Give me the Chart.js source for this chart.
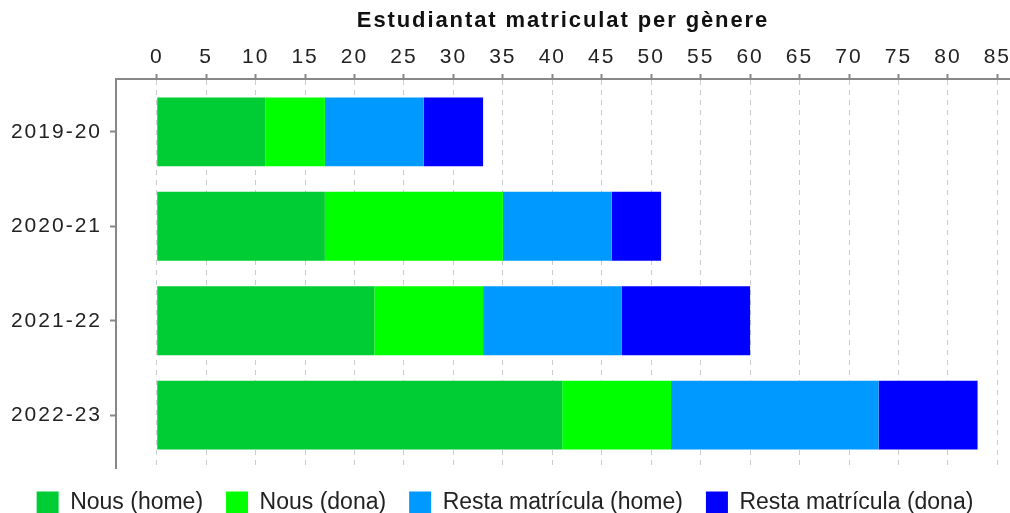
<!DOCTYPE html>
<html>
<head>
<meta charset="utf-8">
<script src="https://cdn.jsdelivr.net/npm/chart.js@4"></script>
<style>
  html, body { margin: 0; padding: 0; background: #fff; }
</style>
</head>
<body>
<canvas id="genere" width="1010" height="513"></canvas>
<script>
// cursos i valors (estudiants)
var cursos = ['2019-20', '2020-21', '2021-22', '2022-23'];
var nousHome = [11, 17, 22, 41];
var nousDona = [6, 18, 11, 11];
var restaHome = [10, 11, 14, 21];
var restaDona = [6, 5, 13, 10];
var xTicks = [0, 5, 10, 15, 20, 25, 30, 35, 40, 45, 50, 55, 60, 65, 70, 75, 80, 85];

Chart.defaults.font.family = "'Liberation Sans', Arial, sans-serif";
Chart.defaults.color = '#222';

// axis text is a bit spaced out in the original
var origLabels = Chart.Scale.prototype.drawLabels;
Chart.Scale.prototype.drawLabels = function (area) {
    this.ctx.letterSpacing = '2px';
    origLabels.call(this, area);
    this.ctx.letterSpacing = '0px';
};
var origTitle = Chart.Scale.prototype.drawTitle;
Chart.Scale.prototype.drawTitle = function (area) {
    this.ctx.letterSpacing = '1.9px';
    origTitle.call(this, area);
    this.ctx.letterSpacing = '0px';
};

new Chart(document.getElementById('genere').getContext('2d'), {
    type: 'bar',
    data: {
        labels: cursos.map(function (c, i) { return i; }),
        datasets: [
            { label: 'Nous (home)', data: nousHome, backgroundColor: '#00cc33', borderColor: '#00cc33', borderWidth: 0 },
            { label: 'Nous (dona)', data: nousDona, backgroundColor: '#00ff00', borderColor: '#00ff00', borderWidth: 0 },
            { label: 'Resta matrícula (home)', data: restaHome, backgroundColor: '#0099ff', borderColor: '#0099ff', borderWidth: 0 },
            { label: 'Resta matrícula (dona)', data: restaDona, backgroundColor: '#0000ff', borderColor: '#0000ff', borderWidth: 0 }
        ]
    },
    options: {
        indexAxis: 'y',
        responsive: false,
        animation: false,
        devicePixelRatio: 1,
        barPercentage: 0.73,
        categoryPercentage: 1,
        layout: { padding: { top: 4, bottom: -11, left: 0, right: 0 } },
        scales: {
            x: {
                position: 'top',
                stacked: true,
                min: -4.12,
                max: 86.28,
                afterBuildTicks: function (scale) {
                    scale.ticks = xTicks.map(function (v) { return { value: v }; });
                },
                afterFit: function (scale) {
                    scale.paddingLeft = 0;
                    scale.paddingRight = 0;
                },
                ticks: { font: { size: 21 }, padding: 4, color: '#222' },
                grid: { color: '#cccccc', lineWidth: 1, tickColor: '#888', tickWidth: 2, tickLength: 5, tickBorderDash: [] },
                border: { color: '#888', width: 2, dash: [5, 5] },
                title: {
                    display: true,
                    text: 'Estudiantat matriculat per gènere',
                    font: { size: 22, weight: 'bold' },
                    color: '#111',
                    padding: { top: 4, bottom: 6.4 }
                }
            },
            y: {
                type: 'linear',
                stacked: true,
                reverse: true,
                offset: false,
                min: -0.56,
                max: 3.56,
                afterBuildTicks: function (scale) {
                    scale.ticks = cursos.map(function (c, i) { return { value: i }; });
                },
                afterFit: function (scale) { scale.width = 116; },
                ticks: {
                    font: { size: 21 },
                    padding: 8,
                    color: '#222',
                    callback: function (v) { return cursos[v]; }
                },
                grid: { offset: false, drawOnChartArea: false, tickColor: '#888', tickWidth: 2, tickLength: 6 },
                border: { color: '#888', width: 2 }
            }
        },
        plugins: {
            title: { display: false },
            tooltip: { enabled: false },
            legend: {
                position: 'bottom',
                labels: {
                    boxWidth: 22,
                    boxHeight: 22,
                    padding: 23,
                    color: '#222',
                    font: { size: 23 }
                }
            }
        }
    }
});
</script>
</body>
</html>
